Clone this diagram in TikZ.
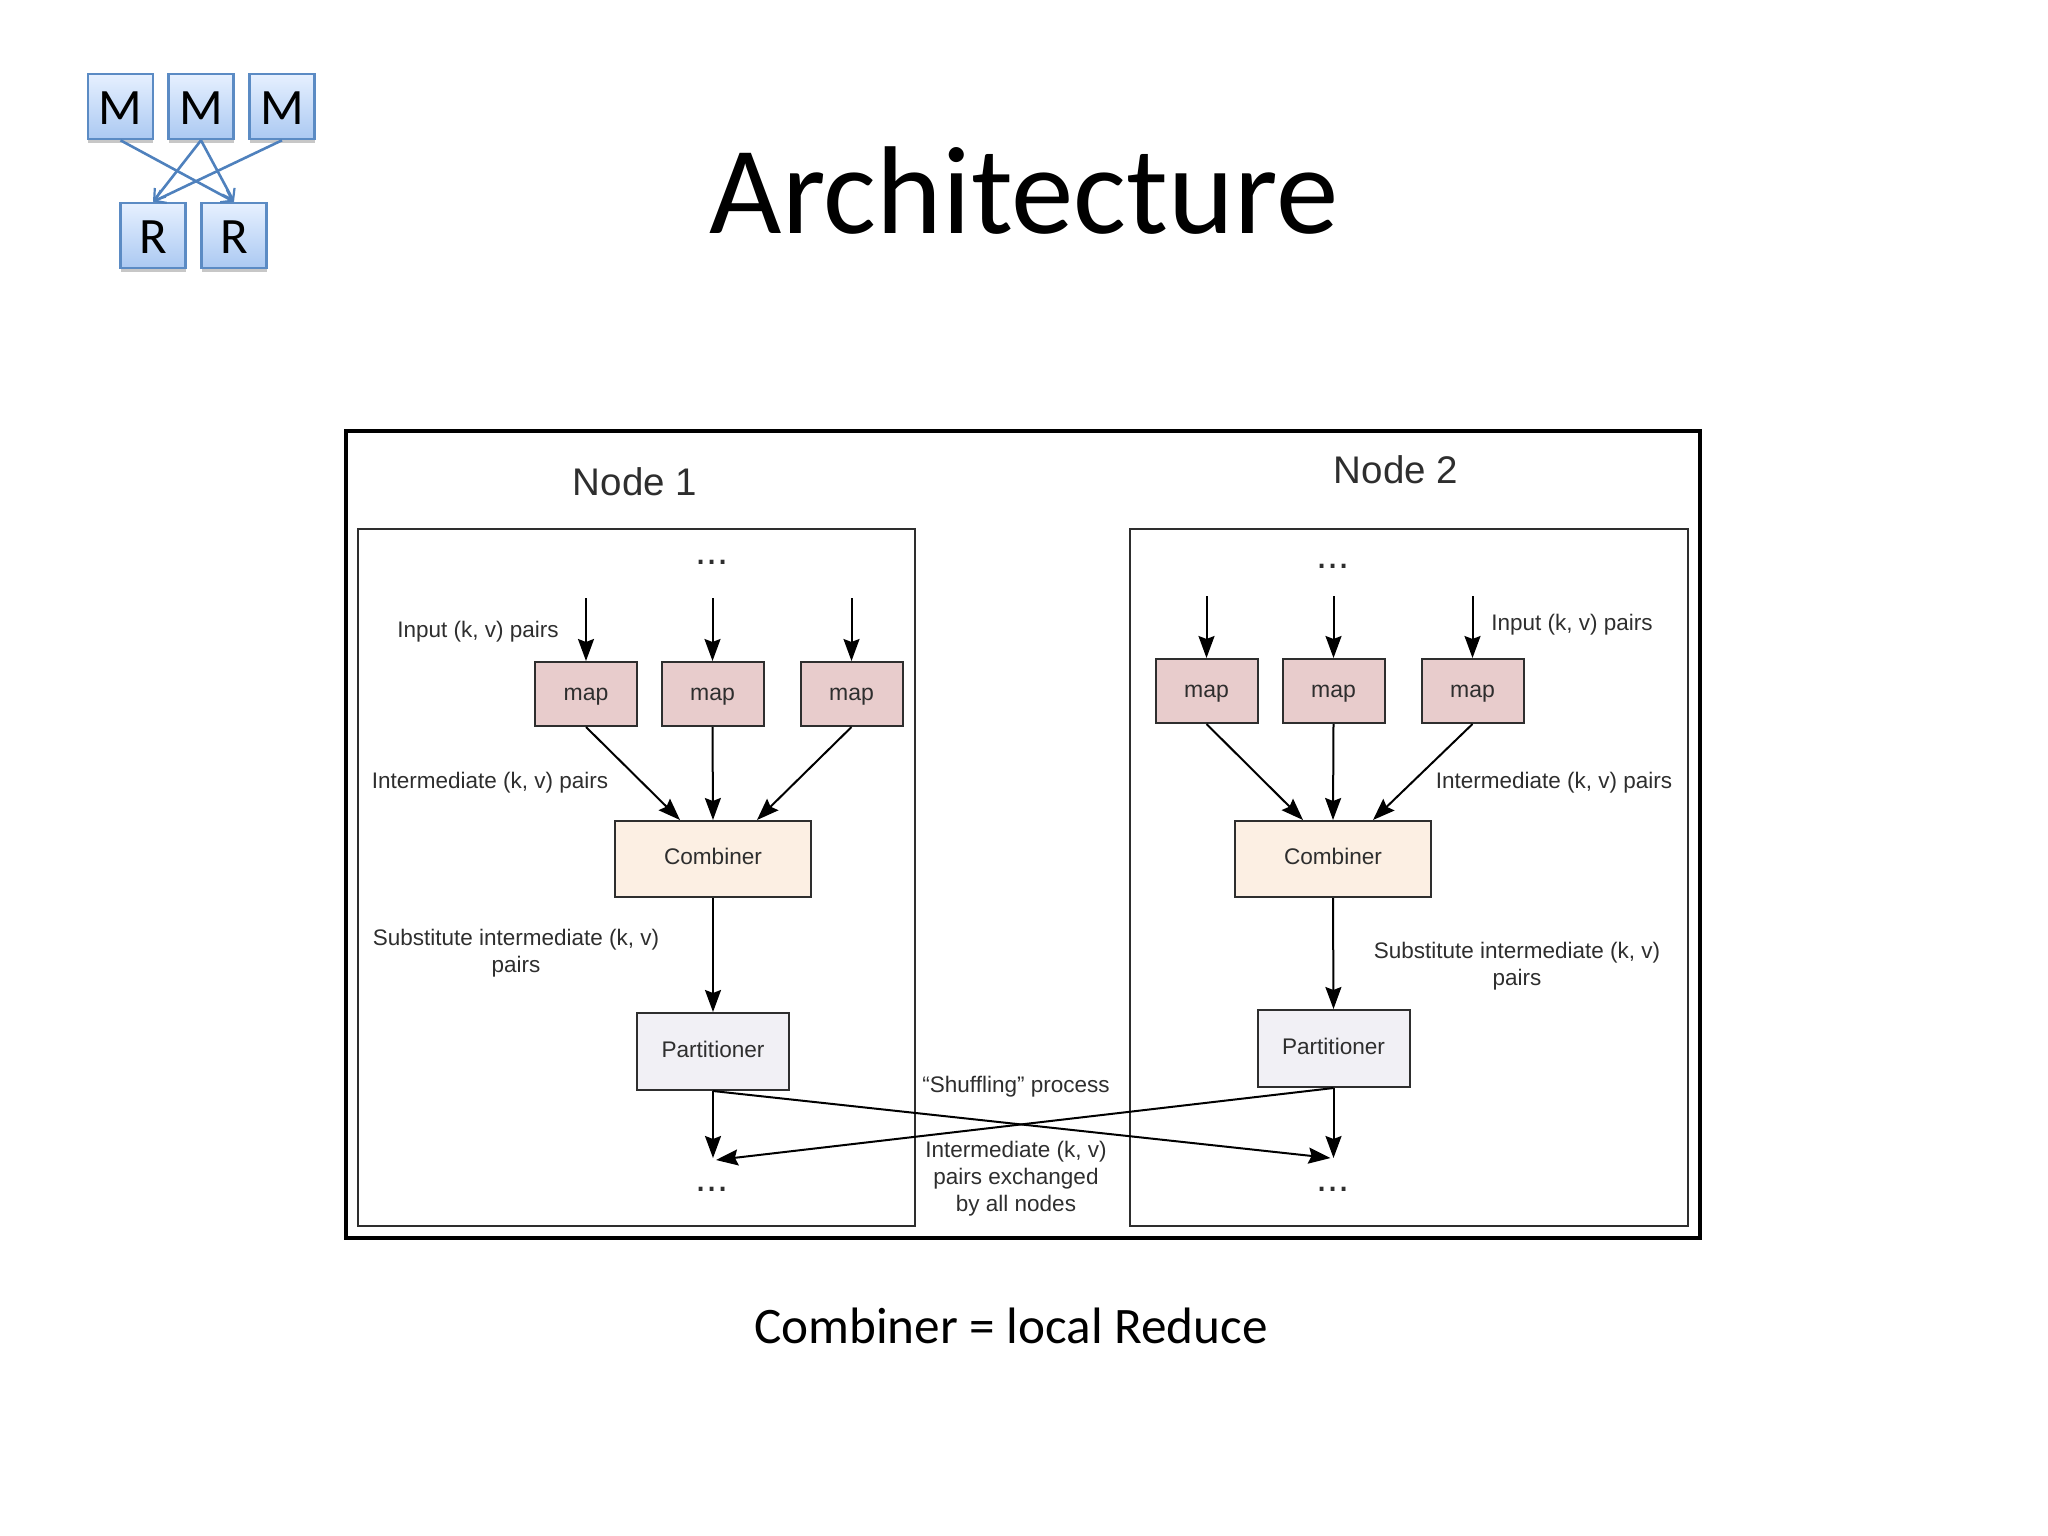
\documentclass[tikz,border=0pt]{standalone}
\usepackage{fontspec}
\setmainfont{Liberation Sans}
\newfontfamily\carl{Carlito}
\usetikzlibrary{arrows.meta,shadows,calc}
\definecolor{logoedge}{HTML}{5B8BC4}
\definecolor{logoarrow}{HTML}{4F81BD}
\definecolor{inkgrey}{HTML}{2E2E2E}
\definecolor{logotop}{HTML}{E6F0FF}
\definecolor{logobot}{HTML}{ABC9F2}
\definecolor{mapfill}{HTML}{E8CCCC}
\definecolor{comfill}{HTML}{FCEFE3}
\definecolor{parfill}{HTML}{F1F0F5}
\tikzset{
  logobox/.style={draw=logoedge,line width=2.6pt,minimum width=65pt,minimum height=65pt,inner sep=0pt,
    top color=logotop,bottom color=logobot,font=\carl\fontsize{51}{51}\selectfont,text=black,
    text height=36pt,text depth=0pt,
    drop shadow={shadow xshift=0pt,shadow yshift=-4pt,opacity=.22,fill=black}},
  logoline/.style={draw=logoarrow,line width=2.6pt,-{Straight Barb[length=10pt,width=14pt,line width=2.2pt]}},
  frame/.style={draw=black,line width=3.2pt},
  nodeframe/.style={draw=inkgrey,line width=2pt},
  flow/.style={draw=black,line width=2pt,-{Stealth[length=22pt,width=16pt,inset=3pt]}},
  mapbox/.style={draw=inkgrey,line width=2pt,fill=mapfill,minimum width=102pt,minimum height=64pt,inner sep=0pt,font=\fontsize{23}{23}\selectfont,text=inkgrey,text height=16pt,text depth=3.8pt},
  combox/.style={draw=inkgrey,line width=2pt,fill=comfill,minimum width=196pt,minimum height=76pt,inner sep=0pt,font=\fontsize{22.6}{22.6}\selectfont,text=inkgrey,text height=16pt,text depth=5pt},
  parbox/.style={draw=inkgrey,line width=2pt,fill=parfill,minimum width=152pt,minimum height=77pt,inner sep=0pt,font=\fontsize{22.6}{22.6}\selectfont,text=inkgrey,text height=16pt,text depth=5pt},
  lab/.style={inner sep=0pt,font=\fontsize{22.5}{27}\selectfont,text=inkgrey,align=center},
  head/.style={inner sep=0pt,font=\fontsize{38.5}{38.5}\selectfont,text=inkgrey},
  dotslab/.style={inner sep=0pt,font=\fontsize{40}{40}\selectfont,text=inkgrey,anchor=base},
}
\begin{document}
\begin{tikzpicture}[x=1pt,y=-1pt]
\useasboundingbox (0,0) rectangle (2048,1536);
% logo
\node[logobox] (m1) at (120.5,106.5) {M};
\node[logobox] (m2) at (201,106.5) {M};
\node[logobox] (m3) at (282,106.5) {M};
\node[logobox] (r1) at (153,235.5) {R};
\node[logobox] (r2) at (234,235.5) {R};
\draw[logoline] (m1.south) -- (r2.north);
\draw[logoline] (m2.south) -- (r1.north);
\draw[logoline] (m2.south) -- (r2.north);
\draw[logoline] (m3.south) -- (r1.north);
% title
\node[inner sep=0pt,font=\carl\fontsize{125}{125}\selectfont,text=black] (title) at (1024,190.5) {Architecture};
\node[inner sep=0pt,font=\carl\fontsize{51.2}{51.2}\selectfont,text=black] (caption) at (1011,1325.5) {Combiner = local Reduce};
% frames
\node[frame,minimum width=1354pt,minimum height=807pt,inner sep=0pt] (outer) at (1023,834.5) {};
\node[nodeframe,minimum width=557pt,minimum height=697pt,inner sep=0pt] (box1) at (636.5,877.5) {};
\node[nodeframe,minimum width=558pt,minimum height=697pt,inner sep=0pt] (box2) at (1408.5,877.5) {};
\node[head] (n1) at (635,482) {Node 1};
\node[head] (n2) at (1396,470) {Node 2};
% node 1
\node[mapbox] (a1) at (586,694) {map};
\node[mapbox] (a2) at (712.5,694) {map};
\node[mapbox] (a3) at (851.5,694) {map};
\node[combox] (ac) at (713,859) {Combiner};
\node[parbox] (ap) at (713,1051.5) {Partitioner};
\node[dotslab] (ad1) at (712,564) {...};
\node[dotslab] (ad2) at (712,1191) {...};
\coordinate (ai1) at (586,598);
\coordinate (ai2) at (712.5,598);
\coordinate (ai3) at (851.5,598);
\coordinate (ae) at (713,1158);
\draw[flow] (ai1) -- (a1.north);
\draw[flow] (ai2) -- (a2.north);
\draw[flow] (ai3) -- (a3.north);
\draw[flow] (a1.south) -- ($(ac.north)+(-33,0)$);
\draw[flow] (a2.south) -- (ac.north);
\draw[flow] (a3.south) -- ($(ac.north)+(44,0)$);
\draw[flow] (ac.south) -- (ap.north);
\draw[flow] (ap.south) -- (ae);
% node 2
\node[mapbox] (b1) at (1206.5,691) {map};
\node[mapbox] (b2) at (1333.5,691) {map};
\node[mapbox] (b3) at (1472.5,691) {map};
\node[combox] (bc) at (1333,859) {Combiner};
\node[parbox] (bp) at (1333.5,1048.5) {Partitioner};
\node[dotslab] (bd1) at (1333,568) {...};
\node[dotslab] (bd2) at (1333,1191) {...};
\coordinate (bi1) at (1206.5,596);
\coordinate (bi2) at (1333.5,596);
\coordinate (bi3) at (1472.5,596);
\coordinate (be) at (1333.5,1158);
\draw[flow] (bi1) -- (b1.north);
\draw[flow] (bi2) -- (b2.north);
\draw[flow] (bi3) -- (b3.north);
\draw[flow] (b1.south) -- ($(bc.north)+(-30,0)$);
\draw[flow] (b2.south) -- (bc.north);
\draw[flow] (b3.south) -- ($(bc.north)+(40,0)$);
\draw[flow] (bc.south) -- (bp.north);
\draw[flow] (bp.south) -- (be);
% cross
\draw[flow,line width=2pt] (ap.south) -- ($(be)+(-3,0)$);
\draw[flow,line width=2pt] (bp.south) -- ($(ae)+(3,2)$);
% labels
\node[lab] (l1) at (478,631.5) {Input (k, v) pairs};
\node[lab] (l2) at (490,782.5) {Intermediate (k, v) pairs};
\node[lab] (l3) at (516,953) {Substitute intermediate (k, v)\\pairs};
\node[lab] (l4) at (1572,624.5) {Input (k, v) pairs};
\node[lab] (l5) at (1554,782.5) {Intermediate (k, v) pairs};
\node[lab] (l6) at (1517,966.5) {Substitute intermediate (k, v)\\pairs};
\node[lab] (l7) at (1016,1086.5) {“Shuffling” process};
\node[lab] (l8) at (1016,1178.5) {Intermediate (k, v)\\pairs exchanged\\by all nodes};
\end{tikzpicture}
\end{document}
